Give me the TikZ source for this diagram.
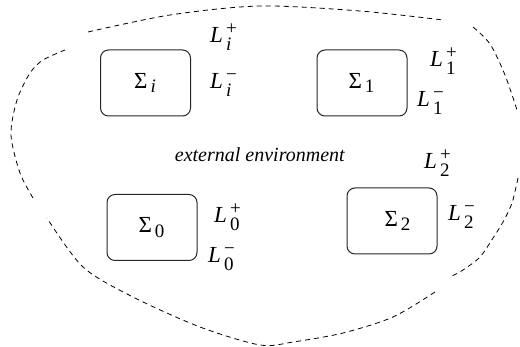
\documentclass[tikz,border=0pt]{standalone}
\usepackage{amsmath}
\usepackage{fontspec}
\setmainfont{Liberation Serif}
\DeclareMathSizes{11.5}{11.5}{9.5}{7}
\newcommand\sysname[1]{$\text{Σ}_{\,\text{#1}}$}
\newcommand\linkname[3]{$\text{\textit{#1}}^{\,\text{#2}}_{\,\text{#3}}$}
\begin{document}
\begin{tikzpicture}[x=0.5pt,y=-0.5pt,
  sysbox/.style={draw,black!85,text=black,rounded corners=4pt,minimum width=45pt,minimum height=33pt,line width=0.5pt,font=\fontsize{11.5}{14}\selectfont},
  linklab/.style={inner sep=1pt,font=\fontsize{11.5}{14}\selectfont},
  envline/.style={dash pattern=on 2.5pt off 2pt,line width=0.4pt}]
  \useasboundingbox (0,0) rectangle (520,347);
  \node[sysbox] (si) at (145.5,83) {\sysname{\textit{i}}};
  \node[sysbox] (s1) at (362,83) {\sysname{1}};
  \node[sysbox] (s0) at (152,227.5) {\sysname{0}};
  \node[sysbox] (s2) at (392,221) {\hspace*{6pt}\sysname{2}};
  \node[linklab] (lip) at (224,37) {\linkname{L}{+}{\textit{i}}};
  \node[linklab] (lim) at (224,85) {\linkname{L}{−}{\textit{i}}};
  \node[linklab] (l1p) at (444,61) {\linkname{L}{+}{1}};
  \node[linklab] (l1m) at (431,103) {\linkname{L}{−}{1}};
  \node[linklab] (l2p) at (438,163) {\linkname{L}{+}{2}};
  \node[linklab] (l2m) at (462,217) {\linkname{L}{−}{2}};
  \node[linklab] (l0p) at (228,217) {\linkname{L}{+}{0}};
  \node[linklab] (l0m) at (222,259) {\linkname{L}{−}{0}};
  \node (env) at (260,155) {\textit{external environment}};
  \draw[envline] plot[smooth] coordinates {(88,32) (170,15) (260,6) (360,11) (443,20)};
  \draw[envline] plot[smooth] coordinates {(473,27) (490,44) (505,75) (518,113)};
  \draw[envline] plot[smooth] coordinates {(518,178) (512,203) (503,222) (493,238) (480,257) (463,270) (450,277)};
  \draw[envline] plot[smooth] coordinates {(435,292) (393,317) (343,333) (293,342) (260,345) (200,327) (133,297) (83,267) (47,218)};
  \draw[envline] plot[smooth] coordinates {(33,198) (20,173) (11,135) (17,100) (30,73) (43,60) (65,50)};
\end{tikzpicture}
\end{document}
